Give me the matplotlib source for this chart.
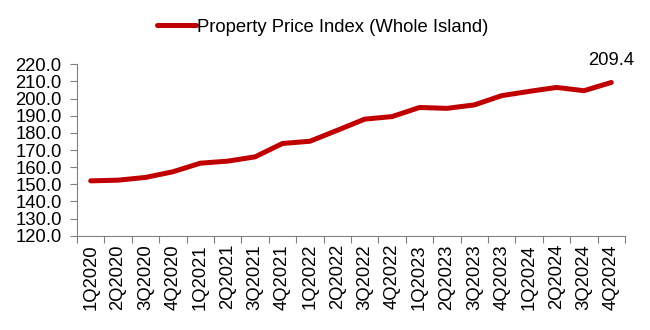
import matplotlib
matplotlib.use("Agg")
import matplotlib.pyplot as plt
import numpy as np

quarters = ["1Q2020", "2Q2020", "3Q2020", "4Q2020",
            "1Q2021", "2Q2021", "3Q2021", "4Q2021",
            "1Q2022", "2Q2022", "3Q2022", "4Q2022",
            "1Q2023", "2Q2023", "3Q2023", "4Q2023",
            "1Q2024", "2Q2024", "3Q2024", "4Q2024"]
ppi = [152.0, 152.4, 154.0, 157.3, 162.3, 163.5, 166.0, 173.8,
       175.1, 181.5, 188.0, 189.5, 194.8, 194.3, 196.3, 201.7,
       204.2, 206.5, 204.6, 209.4]
yticks = [120, 130, 140, 150, 160, 170, 180, 190, 200, 210, 220]

plt.rcParams['font.family'] = ['Liberation Sans', 'DejaVu Sans']
FS = 13.3

fig = plt.figure(figsize=(6.5, 3.3), dpi=100)
ax = fig.add_axes([77/650, 1-235.7/330, (625-77)/650, (235.7-64.3)/330])

x = np.arange(len(quarters))
line, = ax.plot(x, ppi, color='#C00000', lw=3.6, solid_joinstyle='round',
                solid_capstyle='round', label='Property Price Index (Whole Island)')

ax.set_xlim(-0.5, len(quarters) - 0.5)
ax.set_ylim(120, 220)
ax.set_yticks(yticks)
ax.set_yticklabels([f"{v:.1f}" for v in yticks], fontsize=FS)

ax.set_xticks(np.arange(len(quarters) + 1) - 0.5)
ax.set_xticklabels([])
ax.set_xticks(x, minor=True)
ax.set_xticklabels(quarters, minor=True, rotation=90, fontsize=FS)
ax.tick_params(axis='x', which='major', length=5, color='#808080', width=0.8)
ax.tick_params(axis='x', which='minor', length=0, pad=6)
ax.tick_params(axis='y', length=5, color='#808080', width=0.8, pad=6)

for s in ['top', 'right']:
    ax.spines[s].set_visible(False)
for s in ['left', 'bottom']:
    ax.spines[s].set_color('#808080')
    ax.spines[s].set_linewidth(0.8)

ax.annotate(f"{ppi[-1]:.1f}", xy=(x[-1], ppi[-1]), xytext=(0, 16),
            textcoords='offset points', ha='center', va='center',
            fontsize=FS, annotation_clip=False)

fig.legend(handles=[line], loc='center', bbox_to_anchor=(323/650, 1-27/330),
           frameon=False, fontsize=FS, handlelength=2.1, handletextpad=0.05)

fig.savefig("out.png", dpi=100)
